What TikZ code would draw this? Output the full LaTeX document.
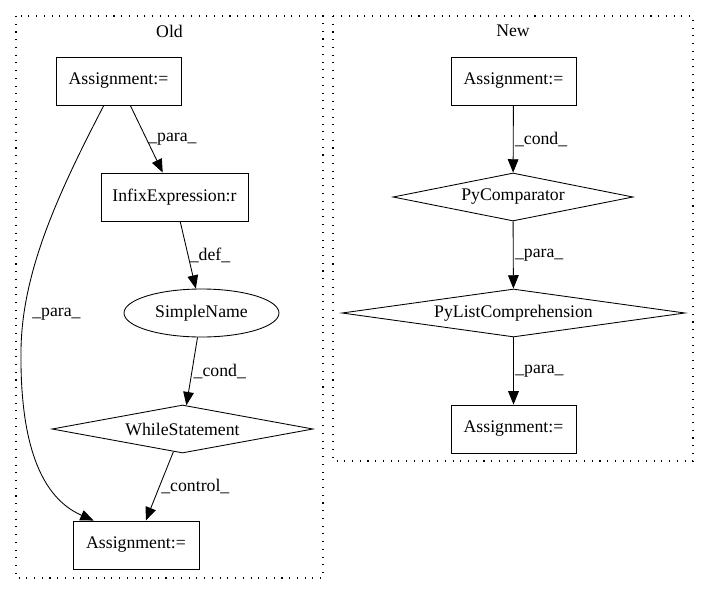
\documentclass[tikz,border=0pt]{standalone}
\usepackage{fontspec}
\setmainfont{Liberation Serif}
\usetikzlibrary{shapes.geometric,arrows.meta}

\begin{document}
\begin{tikzpicture}[x=0.75pt, y=-0.75pt,
    font=\fontsize{13.3pt}{16pt}\selectfont,
    box/.style={draw, rectangle, line width=0.65pt, minimum height=48*\px, inner sep=0pt},
    cond/.style={draw, diamond, aspect=6, line width=0.65pt, minimum height=48*\px, inner sep=0pt},
    flow/.style={line width=0.65pt, -{Triangle[length=10pt, width=8pt]}},
    lbl/.style={right, inner sep=1pt},
    cluster/.style={draw, line width=0.8pt, dash pattern=on 0.8pt off 5pt}]
        % Pixel unit (the picture is laid out in pixels)
        \def\px{0.75pt}
        \useasboundingbox (0,0) rectangle (709,596);

        % Draw the two clusters
        \draw[cluster] (16,16) rectangle (323,578);
        \draw[cluster] (333,16) rectangle (693,461);
        \node (oldtitle) at (169.5,31) {Old};
        \node (newtitle) at (513,31) {New};

        % Nodes of the old graph
        \node[box, minimum width=125*\px] (oassign) at (118.5,81) {Assignment:=};
        \node[box, minimum width=147*\px] (infix) at (174.5,197) {InfixExpression:r};
        \node[draw, ellipse, line width=0.65pt, minimum width=155*\px, minimum height=48*\px, inner sep=0pt] (simple) at (201.5,313) {SimpleName};
        \node[cond, minimum width=261*\px] (while) at (182.5,429) {WhileStatement};
        \node[box, minimum width=126*\px] (oassigntwo) at (136,545) {Assignment:=};

        % Nodes of the new graph
        \node[box, minimum width=125*\px] (nassign) at (513.5,81) {Assignment:=};
        \node[cond, minimum width=240*\px] (pycomp) at (513,197) {PyComparator};
        \node[cond, minimum width=343*\px] (pylist) at (513.5,313) {PyListComprehension};
        \node[box, minimum width=125*\px] (nassigntwo) at (513.5,429) {Assignment:=};

        % Edges of the old graph
        \draw[flow] (oassign) -- node[lbl] {\_para\_} (infix);
        \draw[flow] (infix) -- node[lbl] {\_def\_} (simple);
        \draw[flow] (simple) -- node[lbl] {\_cond\_} (while);
        \draw[flow] (while) -- node[lbl] {\_control\_} (oassigntwo);
        \draw[flow] (oassign.-121) .. controls (60,190) and (22,270) .. node[lbl, pos=0.85, xshift=5pt] {\_para\_} (21,350)
            .. controls (20,430) and (35,495) .. (oassigntwo.150);

        % Edges of the new graph
        \draw[flow] (nassign) -- node[lbl] {\_cond\_} (pycomp);
        \draw[flow] (pycomp) -- node[lbl] {\_para\_} (pylist);
        \draw[flow] (pylist) -- node[lbl] {\_para\_} (nassigntwo);
    \end{tikzpicture}
\end{document}
